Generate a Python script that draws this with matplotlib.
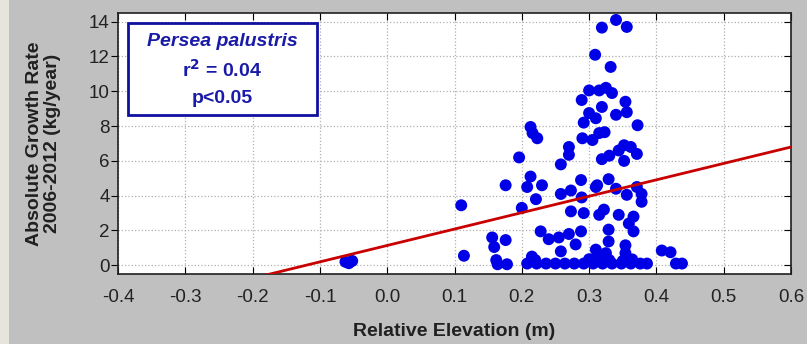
import numpy as np
import matplotlib
matplotlib.use("Agg")
import matplotlib.pyplot as plt
from matplotlib.patches import Rectangle

plt.rcParams['font.family'] = ['Liberation Sans', 'DejaVu Sans']

# relative elevation (m) and growth rate (kg/year)
elev = [-0.062, -0.052, -0.057,
        0.110, 0.114,
        0.156, 0.159, 0.176, 0.162, 0.164, 0.178, 0.176,
        0.196, 0.200, 0.208, 0.213, 0.213, 0.216, 0.223, 0.221, 0.230, 0.215,
        0.228, 0.240, 0.255, 0.270, 0.288, 0.280, 0.258, 0.258, 0.258, 0.270,
        0.270, 0.273, 0.273, 0.288, 0.289, 0.292,
        0.289, 0.300, 0.315, 0.325, 0.334, 0.354, 0.319, 0.300, 0.292, 0.310,
        0.340, 0.356, 0.372, 0.290, 0.305, 0.315, 0.323,
        0.319, 0.330, 0.344, 0.352, 0.362, 0.371, 0.352,
        0.319, 0.340, 0.356, 0.309, 0.332,
        0.310, 0.312, 0.329, 0.340, 0.356, 0.371, 0.378, 0.378, 0.344, 0.359,
        0.366, 0.366, 0.329, 0.329, 0.354, 0.315, 0.322, 0.310, 0.312, 0.325,
        0.354, 0.364,
        0.408, 0.421, 0.429, 0.438,
        0.208, 0.222, 0.236, 0.250, 0.264, 0.278, 0.292, 0.306, 0.320, 0.334,
        0.348, 0.362, 0.376, 0.386, 0.220, 0.300, 0.330, 0.350]
growth = [0.20, 0.25, 0.12,
          3.45, 0.55,
          1.60, 1.05, 1.45, 0.30, 0.06, 0.06, 4.60,
          6.20, 3.30, 4.50, 5.10, 7.95, 7.60, 7.30, 3.80, 4.60, 0.50,
          1.95, 1.50, 1.60, 1.80, 1.95, 1.20, 0.80, 4.10, 5.80, 6.35,
          6.80, 4.30, 3.10, 4.90, 3.90, 3.00,
          9.50, 10.05, 10.05, 10.20, 9.90, 9.40, 9.10, 8.75, 8.20, 8.45,
          8.65, 8.80, 8.05, 7.30, 7.20, 7.60, 7.65,
          6.10, 6.30, 6.60, 6.90, 6.80, 6.40, 6.00,
          13.66, 14.10, 13.70, 12.10, 11.40,
          4.50, 4.60, 4.95, 4.40, 4.05, 4.50, 3.65, 4.10, 2.90, 2.40,
          2.80, 1.95, 2.05, 1.37, 1.15, 2.90, 3.20, 0.90, 0.50, 0.70,
          0.70, 0.34,
          0.85, 0.75, 0.10, 0.10,
          0.10, 0.10, 0.10, 0.10, 0.10, 0.10, 0.10, 0.10, 0.10, 0.10,
          0.10, 0.10, 0.10, 0.10, 0.30, 0.35, 0.30, 0.25]

# fitted line
fit_intercept = 1.14
fit_slope = 9.43

xticks = [-0.4, -0.3, -0.2, -0.1, 0.0, 0.1, 0.2, 0.3, 0.4, 0.5, 0.6]
yticks = [0, 2, 4, 6, 8, 10, 12, 14]

fig = plt.figure(figsize=(8.07, 3.44), dpi=100, facecolor='#c0c0c0')
fig.patches.append(Rectangle((0, 0), 9 / 807, 1, transform=fig.transFigure,
                             facecolor='#e6e4dc', edgecolor='none', zorder=0))
ax = fig.add_axes([118 / 807, 1 - 274 / 344, (791 - 118) / 807, (274 - 13) / 344])

ax.grid(True, color='#b0b0b0', linestyle=':', linewidth=0.9)
ax.set_axisbelow(True)

ax.scatter(elev, growth, s=74, color='#0000e6', edgecolors='none', zorder=3)

xl = np.array([-0.4, 0.6])
ax.plot(xl, fit_intercept + fit_slope * xl, color='#c80000', linewidth=2, zorder=4)

ax.set_xlim(-0.4, 0.6)
ax.set_ylim(-0.5, 14.5)
ax.set_xticks(xticks)
ax.set_xticklabels(['%.1f' % v for v in xticks])
ax.set_yticks(yticks)

ax.tick_params(axis='x', direction='in', top=True, length=5, pad=11,
               labelsize=13.5, labelcolor='#222222')
ax.tick_params(axis='y', direction='in', right=True, length=5, pad=6,
               labelsize=13.5, labelcolor='#222222')
for t in ax.yaxis.get_major_ticks():
    t.tick1line.set_marker(matplotlib.lines.TICKLEFT)
for sp in ax.spines.values():
    sp.set_color('#202020')
    sp.set_linewidth(1.2)

ax.set_xlabel('Relative Elevation (m)', fontsize=14, fontweight='bold',
              color='#202020', labelpad=12)
ax.set_ylabel('Absolute Growth Rate\n2006-2012 (kg/year)', fontsize=14,
              fontweight='bold', color='#202020', labelpad=20, linespacing=1.1)

# annotation box
box = Rectangle((128 / 807, 1 - 115 / 344), (317 - 128) / 807, (115 - 23) / 344,
                transform=fig.transFigure, facecolor='white', edgecolor='#1010a0',
                linewidth=2, zorder=5)
fig.patches.append(box)
cx = 222 / 807
fig.text(cx, 1 - 41 / 344, 'Persea palustris', ha='center', va='center',
         fontsize=14, fontweight='bold', fontstyle='italic', color='#1a1aa8', zorder=6)
fig.text(cx, 1 - 70 / 344, r'r$^\mathbf{2}$ = 0.04', ha='center', va='center',
         fontsize=14, fontweight='bold', color='#1a1aa8', zorder=6)
fig.text(cx, 1 - 98 / 344, 'p<0.05', ha='center', va='center',
         fontsize=14, fontweight='bold', color='#1a1aa8', zorder=6)

fig.savefig('out.png', dpi=100, facecolor=fig.get_facecolor())
